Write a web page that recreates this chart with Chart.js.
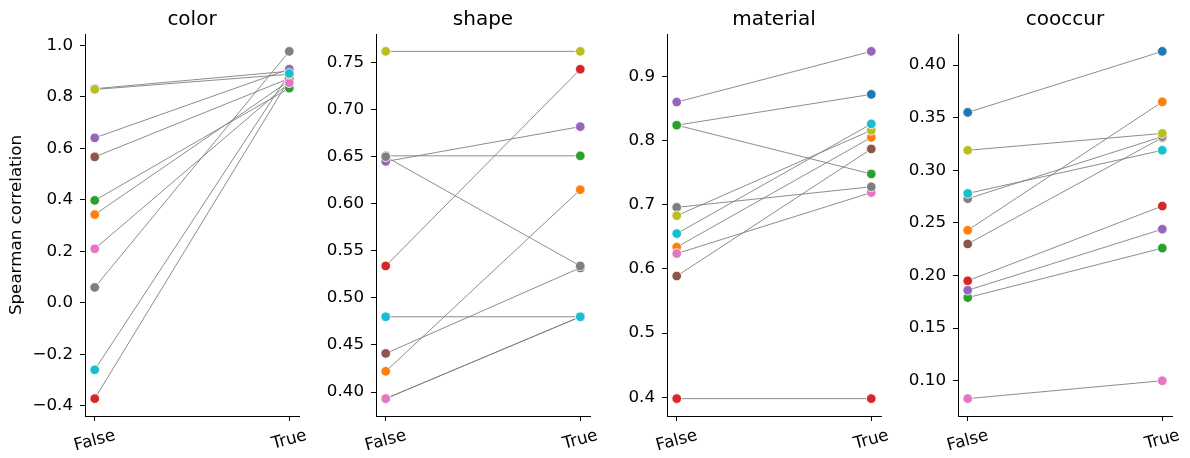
<!DOCTYPE html>
<html>
<head>
<meta charset="utf-8">
<script src="https://cdn.jsdelivr.net/npm/chart.js@4"></script>
<style>
  html, body { margin: 0; padding: 0; background: #fff; }
  #wrap { position: relative; width: 1190px; height: 458px; overflow: hidden; }
  #wrap canvas { position: absolute; top: 0; }
</style>
</head>
<body>
<div id="wrap">
  <canvas id="c0" width="320" height="458" style="left:0px"></canvas>
  <canvas id="c1" width="320" height="458" style="left:291px"></canvas>
  <canvas id="c2" width="320" height="458" style="left:582px"></canvas>
  <canvas id="c3" width="320" height="458" style="left:873px"></canvas>
</div>
<script>
// x categories
const categories = ["False", "True"];

// tab10, one colour per item
const itemColors = [
  "#1f77b4", "#ff7f0e", "#2ca02c", "#d62728", "#9467bd",
  "#8c564b", "#e377c2", "#7f7f7f", "#bcbd22", "#17becf",
];

// values per item (same order as itemColors)
const colorFalse = [0.832, 0.343, 0.398, -0.372, 0.641, 0.567, 0.210, 0.060, 0.829, -0.260];
const colorTrue  = [0.900, 0.862, 0.834, 0.868, 0.908, 0.872, 0.855, 0.977, 0.888, 0.891];

const shapeFalse = [0.393, 0.422, 0.651, 0.534, 0.645, 0.441, 0.393, 0.650, 0.762, 0.480];
const shapeTrue  = [0.480, 0.615, 0.651, 0.743, 0.682, 0.532, 0.480, 0.534, 0.762, 0.480];

const materialFalse = [0.824, 0.634, 0.824, 0.398, 0.860, 0.589, 0.624, 0.696, 0.683, 0.655];
const materialTrue  = [0.872, 0.805, 0.748, 0.398, 0.939, 0.787, 0.719, 0.728, 0.816, 0.826];

const cooccurFalse = [0.355, 0.243, 0.179, 0.195, 0.186, 0.230, 0.083, 0.273, 0.319, 0.278];
const cooccurTrue  = [0.413, 0.365, 0.226, 0.266, 0.244, 0.331, 0.100, 0.332, 0.335, 0.319];

// y tick values
const colorTicks = [-0.4, -0.2, 0.0, 0.2, 0.4, 0.6, 0.8, 1.0];
const shapeTicks = [0.40, 0.45, 0.50, 0.55, 0.60, 0.65, 0.70, 0.75];
const materialTicks = [0.4, 0.5, 0.6, 0.7, 0.8, 0.9];
const cooccurTicks = [0.10, 0.15, 0.20, 0.25, 0.30, 0.35, 0.40];

const panels = [
  { title: "color", f: colorFalse, t: colorTrue, ticks: colorTicks, dec: 1 },
  { title: "shape", f: shapeFalse, t: shapeTrue, ticks: shapeTicks, dec: 2 },
  { title: "material", f: materialFalse, t: materialTrue, ticks: materialTicks, dec: 1 },
  { title: "cooccur", f: cooccurFalse, t: cooccurTrue, ticks: cooccurTicks, dec: 2 },
];

const FONT = '"DejaVu Sans", sans-serif';
const TICK_SIZE = 16.7;

// title above the axes and the slanted False/True labels
const panelText = {
  id: "panelText",
  afterDraw(chart, args, opts) {
    const { ctx, chartArea, scales } = chart;
    ctx.save();
    ctx.fillStyle = "#000";
    ctx.font = "20px " + FONT;
    ctx.textAlign = "center";
    ctx.textBaseline = "alphabetic";
    ctx.fillText(opts.title, (chartArea.left + chartArea.right) / 2, chartArea.top - 9);

    ctx.font = TICK_SIZE + "px " + FONT;
    const a = (15 * Math.PI) / 180;
    categories.forEach((lab, i) => {
      const x = scales.x.getPixelForValue(i);
      const w = ctx.measureText(lab).width;
      const h = TICK_SIZE * 1.16;
      const cy = chartArea.bottom + 10 + (w * Math.sin(a) + h * Math.cos(a)) / 2;
      ctx.save();
      ctx.translate(x, cy);
      ctx.rotate(-a);
      ctx.textBaseline = "middle";
      ctx.fillText(lab, 0, 0);
      ctx.restore();
    });
    ctx.restore();
  },
};

panels.forEach((p, k) => {
  const all = p.f.concat(p.t);
  const lo = Math.min(...all);
  const hi = Math.max(...all);
  const pad = (hi - lo) * 0.05;

  const datasets = [];
  for (let i = 0; i < itemColors.length; i++) {
    const pts = [
      { x: 0, y: p.f[i] },
      { x: 1, y: p.t[i] },
    ];
    // connecting line
    datasets.push({
      data: pts,
      borderColor: "#808080",
      borderWidth: 0.9,
      pointRadius: 0,
      order: 50,
    });
    // the two markers
    datasets.push({
      data: pts,
      showLine: false,
      pointRadius: 4.8,
      pointBackgroundColor: itemColors[i],
      pointBorderColor: "#ffffff",
      pointBorderWidth: 0.8,
      order: 20 - i,
    });
  }

  new Chart(document.getElementById("c" + k), {
    type: "line",
    data: { datasets },
    options: {
      responsive: false,
      animation: false,
      layout: { padding: { top: 34, right: 21, bottom: 0, left: 0 } },
      plugins: {
        legend: { display: false },
        tooltip: { enabled: false },
        title: { display: false },
        panelText: { title: p.title },
      },
      scales: {
        x: {
          type: "linear",
          min: -0.05,
          max: 1.05,
          afterBuildTicks: (axis) => {
            axis.ticks = categories.map((c, i) => ({ value: i }));
          },
          afterFit: (axis) => {
            axis.height = 42;
          },
          ticks: { display: false },
          grid: {
            drawOnChartArea: false,
            drawTicks: true,
            tickLength: 5,
            tickColor: "#000",
            tickWidth: 1,
          },
          border: { display: true, color: "#000", width: 1 },
        },
        y: {
          type: "linear",
          min: lo - pad,
          max: hi + pad,
          afterBuildTicks: (axis) => {
            axis.ticks = p.ticks.map((v) => ({ value: v }));
          },
          afterFit: (axis) => {
            axis.width = 85;
          },
          ticks: {
            color: "#000",
            padding: 7,
            font: { family: FONT, size: TICK_SIZE },
            callback: (v) => Number(v).toFixed(p.dec).replace("-", "\u2212"),
          },
          grid: {
            drawOnChartArea: false,
            drawTicks: true,
            tickLength: 5,
            tickColor: "#000",
            tickWidth: 1,
          },
          border: { display: true, color: "#000", width: 1 },
          title: {
            display: k === 0,
            text: "Spearman correlation",
            color: "#000",
            font: { family: FONT, size: TICK_SIZE },
            padding: { top: 7, bottom: 0 },
          },
        },
      },
    },
    plugins: [panelText],
  });
});
</script>
</body>
</html>
